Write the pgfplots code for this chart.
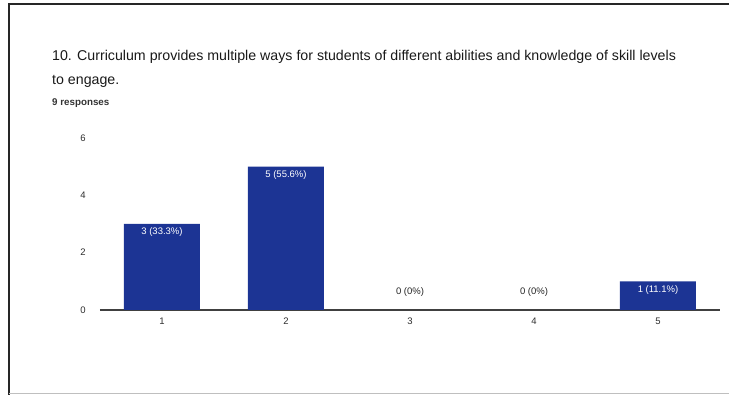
\documentclass[border=0pt]{standalone}
\usepackage{pgfplots}
\pgfplotsset{compat=1.18}
\usepackage{fontspec}
\setmainfont{Liberation Sans}
\definecolor{barblue}{RGB}{28,52,148}
\definecolor{ticktext}{RGB}{45,45,45}
\begin{document}
\begin{tikzpicture}[x=1pt,y=1pt]
\begin{axis}[
  name=ax,
  anchor=origin, at={(0,0)},
  scale only axis, width=620pt, height=172pt,
  xmin=0.5, xmax=5.5, ymin=0, ymax=6,
  axis lines=left,
  x axis line style={black!75, line width=1.2pt, -},
  y axis line style={draw=none},
  xtick={1,2,3,4,5}, ytick={0,2,4,6},
  major tick length=0pt,
  /pgf/number format/assume math mode=true,
  ticklabel style={font=\fontsize{9.5}{10}\selectfont, text=ticktext},
  yticklabel style={anchor=center, xshift=0pt},
  yticklabel shift=0pt,
  yticklabel={\makebox[0pt]{\hspace*{-34pt}\pgfmathprintnumber{\tick}}},
  xticklabel style={yshift=-4pt},
  clip=false,
]
\addplot[ybar, bar width=76pt, bar shift=0pt, fill=barblue, draw=none,
  point meta=explicit symbolic,
  nodes near coords,
  every node near coord/.append style={font=\fontsize{9.5}{10}\selectfont, text=white, anchor=north, yshift=-0.5pt}]
  coordinates {(1,3) [3 (33.3\%)] (2,5) [5 (55.6\%)] (5,1) [1 (11.1\%)]};
\addplot[ybar, bar width=76pt, bar shift=0pt, fill=none, draw=none,
  point meta=explicit symbolic,
  nodes near coords,
  every node near coord/.append style={font=\fontsize{9.5}{10}\selectfont, text=black!85, anchor=south, yshift=10pt}]
  coordinates {(3,0) [0 (0\%)] (4,0) [0 (0\%)]};
\end{axis}
\begin{scope}[shift={(-100,-85)}]
\useasboundingbox (0,0) rectangle (729,395);
\draw[line width=1.8pt, black!85] (9,0) -- (9,391) -- (729,391);
\draw[line width=0.8pt, black!25] (9,2) -- (729,2);
\node[anchor=base west, inner sep=0, font=\fontsize{14.2}{16}\selectfont, text=black!90] at (52,334) {10. Curriculum provides multiple ways for students of different abilities and knowledge of skill levels};
\node[anchor=base west, inner sep=0, font=\fontsize{14.2}{16}\selectfont, text=black!90] at (52,310) {to engage.};
\node[anchor=base west, inner sep=0, font=\fontsize{9.8}{11}\selectfont\bfseries, text=black!80] at (52,289) {9 responses};
\end{scope}
\end{tikzpicture}
\end{document}
